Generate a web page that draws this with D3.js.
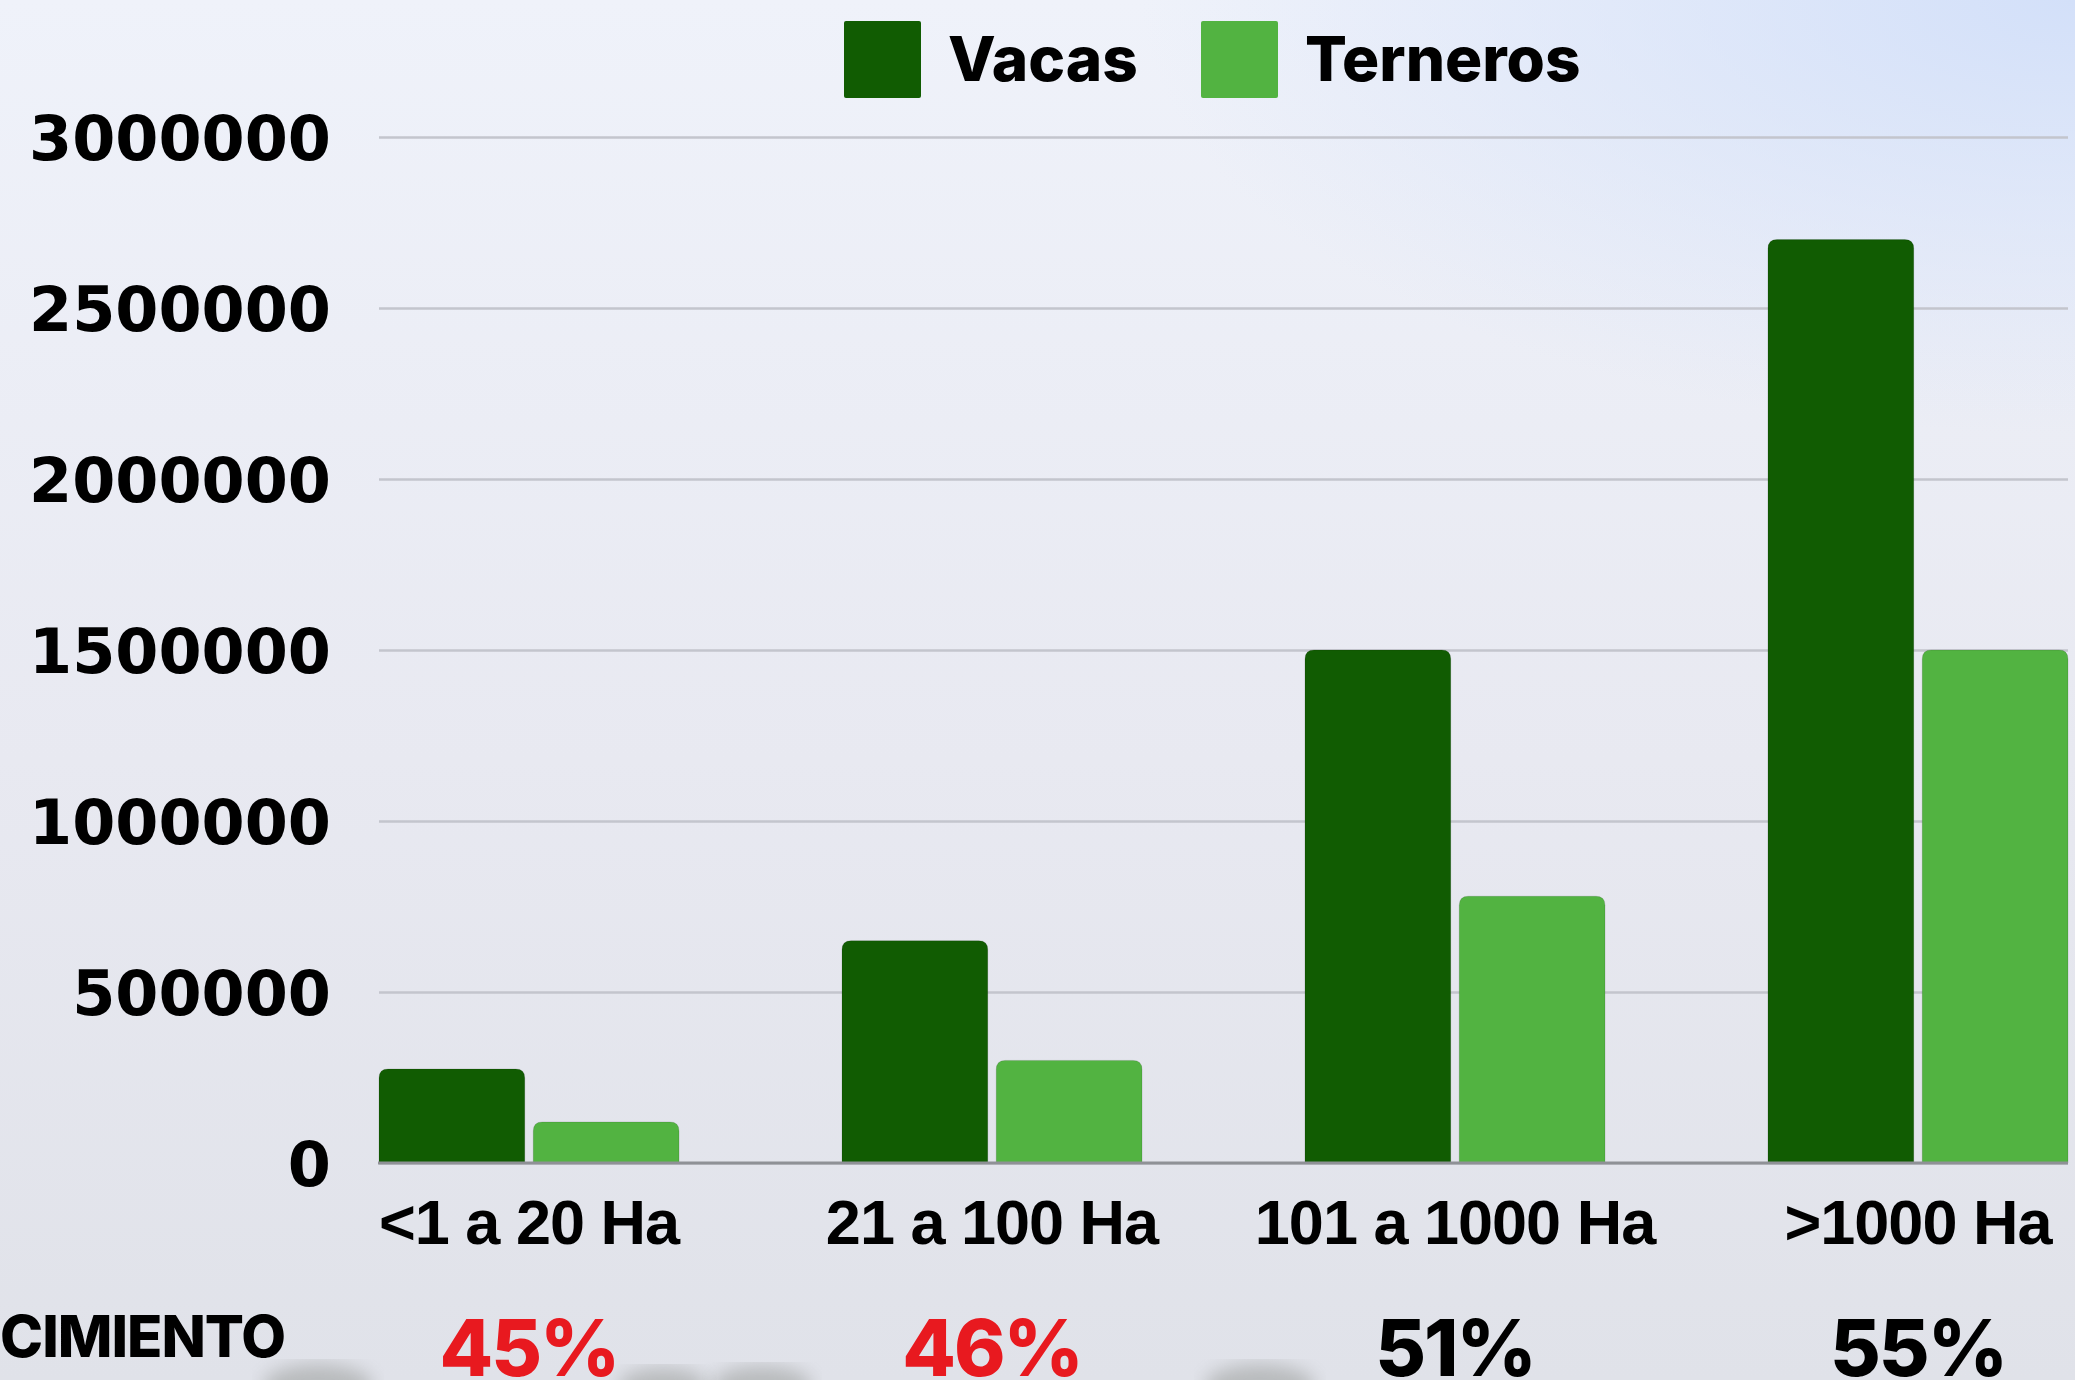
<!DOCTYPE html>
<html>
<head>
<meta charset="utf-8">
<script src="https://cdn.jsdelivr.net/npm/d3@7"></script>
<style>
  html, body { margin: 0; padding: 0; overflow: hidden; }
  svg { display: block; font-family: "Inter", "Liberation Sans", sans-serif; }
</style>
</head>
<body>
<svg id="chart"></svg>
<script>
const categories = ["<1 a 20 Ha", "21 a 100 Ha", "101 a 1000 Ha", ">1000 Ha"];
const seriesNames = ["Vacas", "Terneros"];
const vacas = [275000, 650000, 1500000, 2700000];
const terneros = [120000, 300000, 780000, 1500000];
const yTicks = [0, 500000, 1000000, 1500000, 2000000, 2500000, 3000000];
const percentages = ["45%", "46%", "51%", "55%"];
const rowLabel = "CIMIENTO";

const width = 2075;
const height = 1380;
const margin = { top: 137, right: 7, bottom: 217, left: 379 };
const colors = ["#115c02", "#52b341"];
const pctColors = ["#e8191f", "#e8191f", "#000000", "#000000"];

const svg = d3.select("#chart")
  .attr("width", width)
  .attr("height", height);

// background
const defs = svg.append("defs");
const bg = defs.append("linearGradient").attr("id", "bg").attr("x1", 0).attr("y1", 0).attr("x2", 0).attr("y2", 1);
bg.append("stop").attr("offset", "0%").attr("stop-color", "#eff2fa");
bg.append("stop").attr("offset", "55%").attr("stop-color", "#e8e9f1");
bg.append("stop").attr("offset", "100%").attr("stop-color", "#e0e2e9");
const glow = defs.append("radialGradient").attr("id", "glow").attr("cx", 1).attr("cy", 0).attr("r", 0.45);
glow.append("stop").attr("offset", "0%").attr("stop-color", "#d3e0f9").attr("stop-opacity", 1);
glow.append("stop").attr("offset", "100%").attr("stop-color", "#d3e0f9").attr("stop-opacity", 0);
defs.append("filter").attr("id", "blur").append("feGaussianBlur").attr("stdDeviation", 9);

svg.append("rect").attr("width", width).attr("height", height).attr("fill", "url(#bg)");
svg.append("rect").attr("width", width).attr("height", height * 0.7).attr("fill", "url(#glow)");

// faint blurry shapes from the photo at the bottom
const blobs = [[318, 22], [663, 18], [762, 20], [1260, 22]];
svg.append("g")
  .selectAll("ellipse")
  .data(blobs)
  .enter()
  .append("ellipse")
    .attr("cx", d => d[0])
    .attr("cy", height + 6)
    .attr("rx", d => d[1] * 2.5)
    .attr("ry", d => d[1])
    .attr("fill", "#5f6258")
    .attr("opacity", 0.3)
    .attr("filter", "url(#blur)");

const innerHeight = height - margin.top - margin.bottom;

// scales
const x0 = d3.scaleBand()
  .domain(categories)
  .range([margin.left, width - margin.right])
  .paddingInner(0.352)
  .paddingOuter(0);

const x1 = d3.scaleBand()
  .domain(seriesNames)
  .range([0, x0.bandwidth()])
  .paddingInner(0.055);

const y = d3.scaleLinear()
  .domain([0, 3000000])
  .range([margin.top + innerHeight, margin.top]);

// y axis + gridlines
const yAxis = svg.append("g")
  .attr("transform", `translate(${margin.left},0)`)
  .call(d3.axisLeft(y)
    .tickValues(yTicks)
    .tickFormat(d3.format("d"))
    .tickSize(-(width - margin.left - margin.right))
    .tickPadding(48));

yAxis.select(".domain").remove();
yAxis.selectAll(".tick line")
  .attr("stroke", "#c3c5cd")
  .attr("stroke-width", 2.5);
yAxis.selectAll(".tick text")
  .attr("fill", "#000")
  .style("font-family", "'DejaVu Sans', sans-serif")
  .style("font-size", "62px")
  .style("font-weight", 700)
  .attr("dy", "0.36em");

// bars
const groups = svg.append("g")
  .selectAll("g")
  .data(categories.map((c, i) => ({ cat: c, values: [vacas[i], terneros[i]] })))
  .enter()
  .append("g")
    .attr("transform", d => `translate(${x0(d.cat)},0)`);

function topRounded(x, yTop, w, h, r) {
  r = Math.min(r, h, w / 2);
  return `M${x},${yTop + h}V${yTop + r}Q${x},${yTop} ${x + r},${yTop}H${x + w - r}Q${x + w},${yTop} ${x + w},${yTop + r}V${yTop + h}Z`;
}

groups.selectAll("path")
  .data(d => d.values.map((v, j) => ({ key: seriesNames[j], value: v, idx: j })))
  .enter()
  .append("path")
    .attr("d", d => topRounded(x1(d.key), y(d.value), x1.bandwidth(), y(0) - y(d.value), 9))
    .attr("fill", d => colors[d.idx])
    .attr("stroke", "rgba(0,0,0,0.12)")
    .attr("stroke-width", 1);

// baseline
svg.append("line")
  .attr("x1", margin.left - 1)
  .attr("x2", width - margin.right)
  .attr("y1", y(0))
  .attr("y2", y(0))
  .attr("stroke", "#8f9196")
  .attr("stroke-width", 3);

// x labels
const xAxis = svg.append("g")
  .attr("transform", `translate(0,${y(0)})`)
  .call(d3.axisBottom(x0).tickSize(0).tickPadding(0));
xAxis.select(".domain").remove();
xAxis.selectAll(".tick text")
  .attr("fill", "#000")
  .attr("dy", 0)
  .attr("y", 81)
  .style("font-size", "63px")
  .style("font-weight", 800)
  .style("letter-spacing", "-1px");

// percentage row
svg.append("g")
  .selectAll("text")
  .data(categories)
  .enter()
  .append("text")
    .attr("x", d => x0(d) + x0.bandwidth() / 2)
    .attr("y", 1376)
    .attr("text-anchor", "middle")
    .attr("fill", (d, i) => pctColors[i])
    .style("font-size", "78px")
    .style("font-weight", 800)
    .style("letter-spacing", "-2px")
    .text((d, i) => percentages[i]);

svg.append("text")
  .attr("x", 285)
  .attr("y", 1357)
  .attr("text-anchor", "end")
  .attr("fill", "#000")
  .style("font-size", "58px")
  .style("font-weight", 800)
  .style("letter-spacing", "-1px")
  .text(rowLabel);

// legend
const legend = svg.append("g")
  .selectAll("g")
  .data(seriesNames)
  .enter()
  .append("g")
    .attr("transform", (d, i) => `translate(${[844, 1201][i]},21)`);

legend.append("rect")
  .attr("width", 77)
  .attr("height", 77)
  .attr("rx", 2)
  .attr("fill", (d, i) => colors[i]);

legend.append("text")
  .attr("x", 104)
  .attr("y", 60)
  .attr("fill", "#000")
  .style("font-size", "62px")
  .style("font-weight", 800)
  .text(d => d);
</script>
</body>
</html>
